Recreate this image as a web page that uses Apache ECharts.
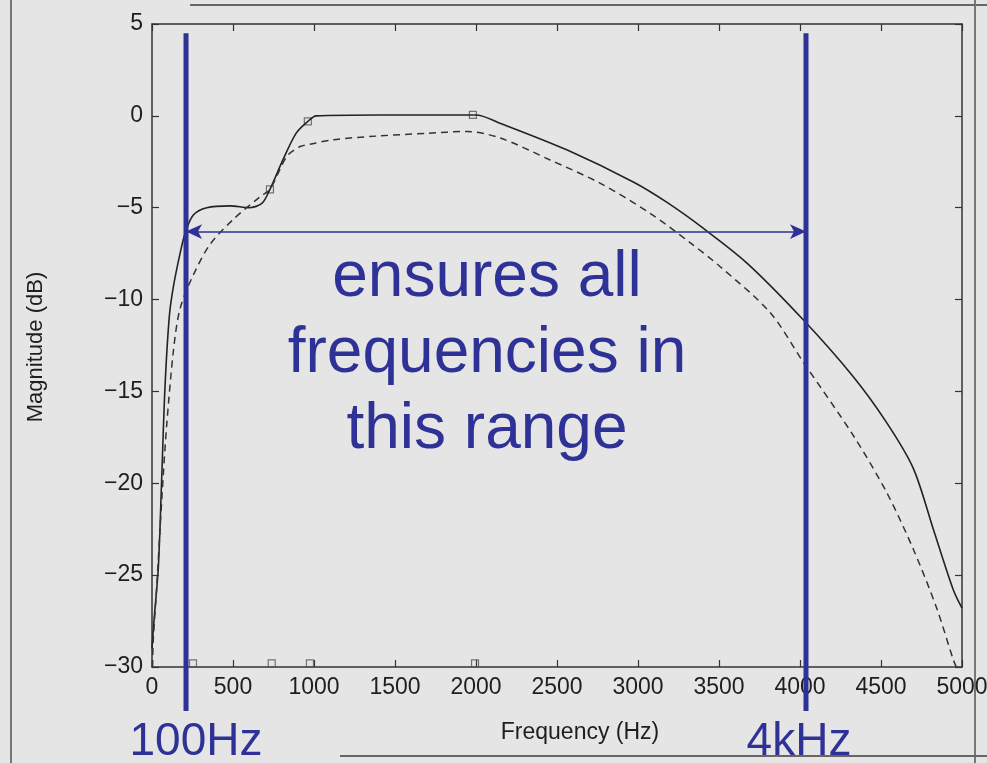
<!DOCTYPE html>
<html>
<head>
<meta charset="utf-8">
<script src="https://cdn.jsdelivr.net/npm/echarts@6/dist/echarts.min.js"></script>
<style>
html,body{margin:0;padding:0;background:#e5e5e5;}
#chart{width:987px;height:763px;}
</style>
</head>
<body>
<div id="chart"></div>
<script>
// frequency (Hz) / magnitude (dB)
var solidCurve = [
  [0,-29],[12,-27.5],[39,-24.6],[60,-19.7],[80,-14.8],[107,-10.9],[132,-9.3],
  [173,-7.5],[204,-6.4],[255,-5.4],[338,-5.0],[481,-4.9],[600,-5.0],[680,-4.75],
  [728,-4.0],[808,-2.4],[890,-0.94],[962,-0.3],[1014,0],[1400,0.05],[2000,0.05],
  [2148,-0.4],[2560,-1.85],[2971,-3.6],[3177,-4.7],[3400,-6.1],[3671,-8.0],
  [4020,-11.1],[4329,-14.2],[4535,-16.7],[4700,-19.2],[4823,-22.5],[4946,-25.8],[5000,-26.8]
];
var dashedCurve = [
  [3,-30],[8,-28.5],[30,-25.5],[49,-22.6],[70,-19.5],[91,-16.8],[132,-12.8],
  [173,-10.5],[253,-8.7],[358,-7.0],[500,-5.65],[667,-4.4],[728,-4.0],[833,-2.2],
  [914,-1.67],[975,-1.55],[1117,-1.3],[1389,-1.1],[1700,-0.95],[1944,-0.85],
  [2148,-1.2],[2457,-2.4],[2765,-3.66],[3074,-5.3],[3321,-6.9],[3506,-8.2],
  [3815,-10.7],[4020,-13.4],[4329,-17.4],[4535,-20.5],[4700,-23.6],[4844,-26.8],
  [4946,-29.6],[4965,-30]
];
var curveMarkers = [[728,-4.0],[962,-0.3],[1981,0.05]];
var axisMarkers = [[253,-29.8],[739,-29.8],[975,-29.8],[1994,-29.8]];
// hand-drawn range annotation
var lowEdge = 210, highEdge = 4037;
var rangeLevel = -6.3;
var lineTop = 4.5, lineBottom = -32.4;

var xTicks = {min:0, max:5000, step:500};
var yTicks = {min:-30, max:5, step:5};

var ink = '#1e1e1e';
var blue = '#2e3196';
var font = '"Liberation Sans", Arial, sans-serif';

var myChart = echarts.init(document.getElementById('chart'));

function frameAxis(pos, showLabel, t) {
  return {
    type: 'value', position: pos,
    min: t.min, max: t.max, interval: t.step,
    axisLine: {show: true, onZero: false, lineStyle: {color: '#333', width: 1.5}},
    axisTick: {show: true, inside: true, length: 7, lineStyle: {color: '#333', width: 1.2}},
    splitLine: {show: false},
    axisLabel: {show: showLabel, color: ink, fontSize: 23, fontFamily: font, margin: 9,
      formatter: function (v) { return String(v).replace('-', '\u2212'); }}
  };
}

var option = {
  backgroundColor: '#e5e5e5',
  animation: false,
  grid: {left: 152, right: 25, top: 24, bottom: 96, outerBoundsMode: 'none', containLabel: false},
  xAxis: [frameAxis('bottom', true, xTicks), frameAxis('top', false, xTicks)],
  yAxis: [frameAxis('left', true, yTicks), frameAxis('right', false, yTicks)],
  series: [
    {
      type: 'line', data: solidCurve, smooth: 0.3, showSymbol: false,
      lineStyle: {color: '#222', width: 1.6}
    },
    {
      type: 'line', data: dashedCurve, smooth: 0.3, showSymbol: false,
      lineStyle: {color: '#333', width: 1.5, type: [7, 5]}
    },
    {
      type: 'scatter', data: curveMarkers.concat(axisMarkers),
      symbol: 'rect', symbolSize: 7,
      itemStyle: {color: 'rgba(0,0,0,0)', borderColor: '#555', borderWidth: 1.2}
    },
    {
      type: 'line', data: [[lowEdge, lineTop], [lowEdge, lineBottom]],
      clip: false, showSymbol: false, z: 5,
      lineStyle: {color: blue, width: 5}
    },
    {
      type: 'line', data: [[highEdge, lineTop], [highEdge, lineBottom]],
      clip: false, showSymbol: false, z: 5,
      lineStyle: {color: blue, width: 5},
      markLine: {
        silent: true, symbol: ['arrow', 'arrow'], symbolSize: [11, 16],
        label: {show: false},
        lineStyle: {color: blue, width: 1.6, type: 'solid'},
        data: [[{coord: [lowEdge, rangeLevel]}, {coord: [highEdge, rangeLevel]}]]
      }
    }
  ],
  graphic: [
    {type: 'text', x: 36, y: 347, rotation: Math.PI / 2,
      style: {text: 'Magnitude (dB)', fill: ink, font: '22px ' + font, align: 'center', verticalAlign: 'middle'}},
    {type: 'text', x: 580, y: 733,
      style: {text: 'Frequency (Hz)', fill: ink, font: '23px ' + font, align: 'center', verticalAlign: 'middle'}},
    {type: 'text', x: 487, y: 354, z: 10,
      style: {text: 'ensures all\nfrequencies in\nthis range', fill: blue, font: '64px ' + font,
        lineHeight: 76, align: 'center', verticalAlign: 'middle'}},
    {type: 'text', x: 196, y: 742, z: 10,
      style: {text: '100Hz', fill: blue, font: '46px ' + font, align: 'center', verticalAlign: 'middle'}},
    {type: 'text', x: 799, y: 742, z: 10,
      style: {text: '4kHz', fill: blue, font: '46px ' + font, align: 'center', verticalAlign: 'middle'}},
    // edges of the scanned page
    {type: 'line', shape: {x1: 190, y1: 5, x2: 987, y2: 5}, style: {stroke: '#666', lineWidth: 2}},
    {type: 'line', shape: {x1: 11, y1: 0, x2: 11, y2: 763}, style: {stroke: '#777', lineWidth: 2}},
    {type: 'line', shape: {x1: 975, y1: 0, x2: 975, y2: 763}, style: {stroke: '#777', lineWidth: 2}},
    {type: 'line', shape: {x1: 340, y1: 756, x2: 987, y2: 756}, style: {stroke: '#666', lineWidth: 2}}
  ]
};
myChart.setOption(option);
window.addEventListener('resize', function () {
  myChart.resize();
});
</script>
</body>
</html>
